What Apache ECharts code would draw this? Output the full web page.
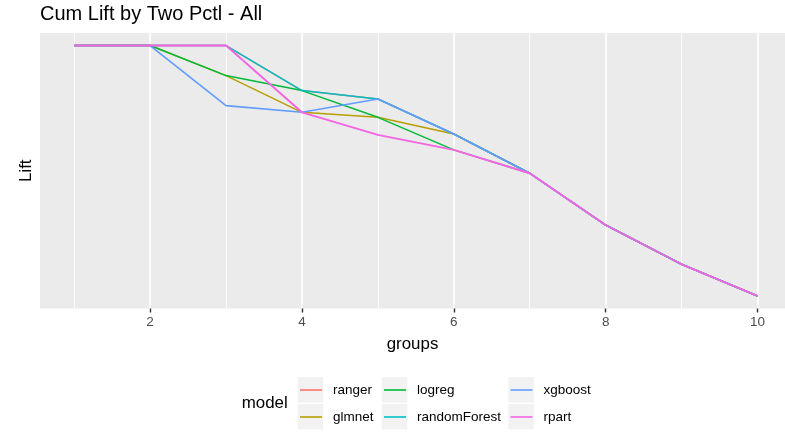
<!DOCTYPE html>
<html>
<head>
<meta charset="utf-8">
<script src="https://cdn.jsdelivr.net/npm/echarts@6/dist/echarts.min.js"></script>
<style>
html,body{margin:0;padding:0;background:#fff;}
#chart{width:785px;height:432px;}
</style>
</head>
<body>
<div id="chart"></div>
<script>
// ---- data ----
const groups = [1, 2, 3, 4, 5, 6, 7, 8, 9, 10];
const ranger       = [4.00, 4.00, 4.00, 3.46, 3.36, 2.94, 2.47, 1.85, 1.38, 1.00];
const glmnet       = [4.00, 4.00, 3.64, 3.20, 3.14, 2.94, 2.47, 1.85, 1.38, 1.00];
const logreg       = [4.00, 4.00, 3.64, 3.46, 3.14, 2.75, 2.47, 1.85, 1.38, 1.00];
const randomForest = [4.00, 4.00, 4.00, 3.46, 3.36, 2.94, 2.47, 1.85, 1.38, 1.00];
const xgboost      = [4.00, 4.00, 3.28, 3.20, 3.36, 2.94, 2.47, 1.85, 1.38, 1.00];
const rpart        = [4.00, 4.00, 4.00, 3.20, 2.93, 2.75, 2.47, 1.85, 1.38, 1.00];
const modelNames = ['ranger', 'glmnet', 'logreg', 'randomForest', 'xgboost', 'rpart'];
const xTicks = [2, 4, 6, 8, 10];
const xMinorTicks = [1, 3, 5, 7, 9];

const seriesValues = [ranger, glmnet, logreg, randomForest, xgboost, rpart];
const colors = ['#F8766D', '#B79F00', '#00BA38', '#00BFC4', '#619CFF', '#F564E3'];
const widths = [1.5, 1.5, 1.5, 1.5, 1.6, 1.9];
const FONT = '"Liberation Sans", Arial, sans-serif';

const chart = echarts.init(document.getElementById('chart'), null, {renderer: 'canvas'});

const series = modelNames.map((name, i) => ({
  name: name,
  type: 'line',
  xAxisIndex: 0,
  yAxisIndex: 0,
  symbol: 'none',
  z: 2 + i,
  lineStyle: {color: colors[i], width: widths[i], opacity: 1},
  itemStyle: {color: colors[i]},
  emphasis: {disabled: true},
  data: groups.map((g, j) => [g, seriesValues[i][j]]),
  animation: false
}));

// legend: column-major 3 x 2 layout like ggplot
const colLeft = [300, 384, 510.5];
const rowCenter = [390, 417];
const legends = modelNames.map((name, i) => {
  const col = Math.floor(i / 2), row = i % 2;
  return {
    orient: 'vertical',
    left: colLeft[col],
    top: rowCenter[row] - 13.5,
    padding: 0,
    icon: 'rect',
    itemWidth: 22,
    itemHeight: 1.6,
    itemGap: 0,
    selectedMode: false,
    data: [name],
    textStyle: {fontFamily: FONT, fontSize: 13.5, color: '#000', lineHeight: 27, padding: [0, 0, 0, 6]}
  };
});

const keyBoxes = [];
[297.7, 381.7, 508.3].forEach(x => {
  [377.2, 404.0].forEach(y => {
    keyBoxes.push({type: 'rect', shape: {x: x, y: y, width: 25.6, height: 25.4}, style: {fill: '#F2F2F2'}, z: -1, silent: true});
  });
});

chart.setOption({
  animation: false,
  backgroundColor: '#fff',
  title: {
    text: 'Cum Lift by Two Pctl - All',
    left: 40,
    top: 4,
    padding: 0,
    textStyle: {fontFamily: FONT, fontSize: 20, fontWeight: 'normal', color: '#000'}
  },
  grid: {
    left: 40, right: 0, top: 33, height: 275.5,
    show: true, backgroundColor: '#EBEBEB', borderWidth: 0
  },
  xAxis: [{
    type: 'value',
    min: 0.55, max: 10.362,
    axisLine: {show: false},
    axisTick: {show: true, length: 4, lineStyle: {color: '#333333', width: 1.4}, customValues: xTicks},
    axisLabel: {show: true, customValues: xTicks, margin: 7, fontFamily: FONT, fontSize: 13.5, color: '#4D4D4D'},
    splitLine: {show: true, lineStyle: {color: '#FFFFFF', width: 1.6}},
    name: 'groups',
    nameLocation: 'middle',
    nameGap: 27,
    nameTextStyle: {fontFamily: FONT, fontSize: 16.9, color: '#000'}
  }, {
    type: 'value',
    min: 0.55, max: 10.362,
    position: 'bottom',
    axisLine: {show: false},
    axisTick: {show: false, customValues: xMinorTicks},
    axisLabel: {show: false, customValues: xMinorTicks},
    splitLine: {show: true, lineStyle: {color: '#FFFFFF', width: 0.8}}
  }],
  yAxis: {
    type: 'value',
    min: 0.85, max: 4.15,
    axisLine: {show: false},
    axisTick: {show: false},
    axisLabel: {show: false},
    splitLine: {show: false},
    name: 'Lift',
    nameLocation: 'middle',
    nameRotate: 90,
    nameGap: 5,
    nameTextStyle: {fontFamily: FONT, fontSize: 16.9, color: '#000'}
  },
  legend: legends,
  graphic: keyBoxes.concat([{
    type: 'text',
    left: 241.7,
    top: 395,
    style: {text: 'model', fontFamily: FONT, fontSize: 16.9, fill: '#000'}
  }]),
  series: series
});
</script>
</body>
</html>
